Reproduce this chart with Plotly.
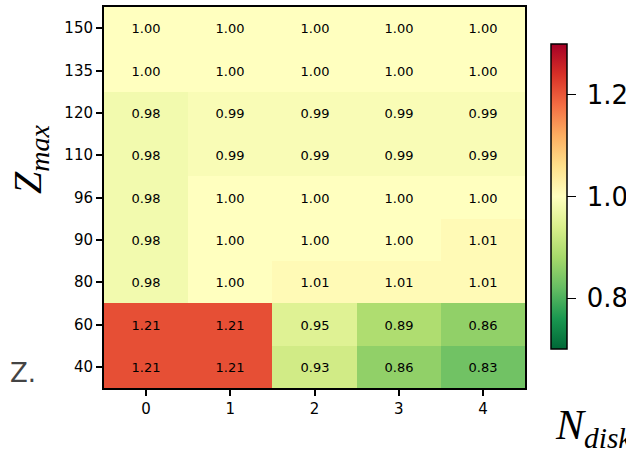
import plotly.graph_objects as go

n_disk = [0, 1, 2, 3, 4]
z_max = ["40", "60", "80", "90", "96", "110", "120", "135", "150"]
ratio = [
    [1.21, 1.21, 0.93, 0.86, 0.83],
    [1.21, 1.21, 0.95, 0.89, 0.86],
    [0.98, 1.00, 1.01, 1.01, 1.01],
    [0.98, 1.00, 1.00, 1.00, 1.01],
    [0.98, 1.00, 1.00, 1.00, 1.00],
    [0.98, 0.99, 0.99, 0.99, 0.99],
    [0.98, 0.99, 0.99, 0.99, 0.99],
    [1.00, 1.00, 1.00, 1.00, 1.00],
    [1.00, 1.00, 1.00, 1.00, 1.00],
]
cbar_ticks = [0.8, 1.0, 1.2]
cbar_labels = ["0.8", "1.0", "1.2"]

W, H = 626, 454
L, R, T, B = 104, 101, 7, 66
pw = W - L - R
ph = H - T - B

fig = go.Figure(go.Heatmap(
    x=n_disk, y=z_max, z=ratio,
    colorscale="RdYlGn", reversescale=True,
    zmin=0.7, zmax=1.3,
    texttemplate="%{z:.2f}",
    textfont=dict(family="DejaVu Sans", size=13, color="black"),
    xgap=0, ygap=0,
    hoverinfo="skip",
    colorbar=dict(
        x=(551 - L) / pw, xanchor="left", xpad=0, ypad=0,
        y=(H - B - 196.5) / ph, yanchor="middle",
        len=305 / ph, lenmode="fraction",
        thickness=16,
        outlinewidth=1.5, outlinecolor="black",
        tickvals=cbar_ticks, ticktext=["\u2009" + t for t in cbar_labels],
        ticks="outside", ticklen=9, tickwidth=1.2, tickcolor="black",
        tickfont=dict(family="DejaVu Sans", size=26, color="black"),
    ),
))

fig.update_xaxes(
    type="category", tickvals=n_disk, ticktext=[str(v) for v in n_disk],
    showline=True, linecolor="black", linewidth=2, mirror=True,
    ticks="outside", ticklen=6, tickwidth=1.5, tickcolor="black",
    tickfont=dict(family="DejaVu Sans", size=15, color="black"),
    showgrid=False, zeroline=False,
)
fig.update_yaxes(
    type="category",
    showline=True, linecolor="black", linewidth=2, mirror=True,
    ticks="outside", ticklen=6, tickwidth=1.5, tickcolor="black",
    tickfont=dict(family="DejaVu Sans", size=15, color="black"),
    showgrid=False, zeroline=False,
)

fig.add_annotation(
    text="<i>Z</i><sub><i>max</i></sub>", textangle=-90,
    xref="paper", yref="paper",
    x=(30 - L) / pw, y=(H - B - 160) / ph,
    xanchor="center", yanchor="middle", showarrow=False,
    font=dict(family="Liberation Serif", size=40, color="black"),
)
fig.add_annotation(
    text="<i>N</i><sub><i>disk</i></sub>",
    xref="paper", yref="paper",
    x=(553 - L) / pw, y=(H - B - 428) / ph,
    xanchor="left", yanchor="middle", showarrow=False,
    font=dict(family="Liberation Serif", size=42, color="black"),
)
fig.add_annotation(
    text="Z.",
    xref="paper", yref="paper",
    x=(8 - L) / pw, y=(H - B - 373) / ph,
    xanchor="left", yanchor="middle", showarrow=False,
    font=dict(family="DejaVu Sans", size=26, color="#444444"),
)

fig.update_layout(
    width=W, height=H,
    margin=dict(l=L, r=R, t=T, b=B, pad=0, autoexpand=False),
    paper_bgcolor="white", plot_bgcolor="white",
    showlegend=False,
)

fig.write_html(
    "out.html",
    config={"displayModeBar": False},
    post_script="document.body.style.margin='0px';document.body.style.overflow='hidden';",
)
